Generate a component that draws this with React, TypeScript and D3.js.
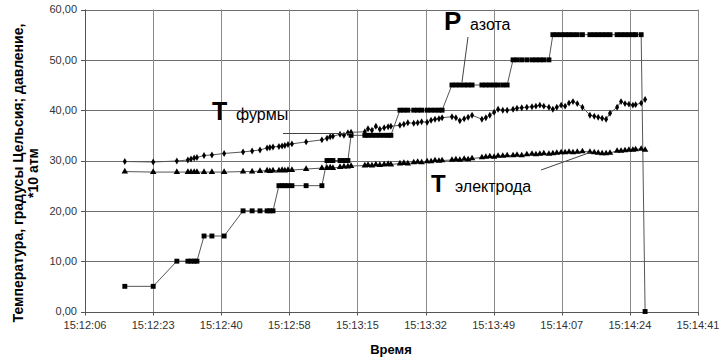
import React from "react";
import * as d3 from "d3";

// seconds after 15:12:06
const sampleTimes = [
  10.1, 17.3, 23.3, 26.1, 26.9, 27.7, 28.4, 30.2, 32.2, 35.3,
  40.1, 42.4, 44.4, 46.2, 46.9, 47.7, 49.2, 50.0, 50.7, 51.5,
  52.5, 56.1, 60.1, 61.4, 62.2, 62.9, 64.7, 65.7, 66.7, 67.5,
  71.0, 71.8, 72.8, 73.8, 74.8, 75.9, 76.9, 77.6, 79.9, 80.9,
  81.9, 83.4, 84.4, 85.4, 86.8, 87.8, 88.8, 89.8, 90.6, 93.1,
  94.1, 95.1, 96.2, 97.2, 98.2, 100.7, 101.7, 102.7, 103.8, 104.8,
  106.0, 107.1, 108.6, 109.6, 110.8, 112.1, 113.4, 114.4, 115.4, 116.4,
  117.7, 118.7, 119.7, 120.8, 121.8, 122.8, 123.8, 124.9, 126.2, 128.1,
  129.2, 130.2, 131.2, 132.2, 133.2, 135.0, 136.0, 137.0, 138.0, 139.0,
  139.7, 141.1, 142.1,
];

const pNitrogen = [
  5, 5, 10, 10, 10, 10, 10, 15, 15, 15,
  20, 20, 20, 20, 20, 20, 25, 25, 25, 25,
  25, 25, 25, 30, 30, 30, 30, 30, 30, 35,
  35, 35, 35, 35, 35, 35, 35, 35, 40, 40,
  40, 40, 40, 40, 40, 40, 40, 40, 40, 45,
  45, 45, 45, 45, 45, 45, 45, 45, 45, 45,
  45, 45, 50, 50, 50, 50, 50, 50, 50, 50,
  50, 55, 55, 55, 55, 55, 55, 55, 55, 55,
  55, 55, 55, 55, 55, 55, 55, 55, 55, 55,
  55, 55, 0,
];

const tTuyere = [
  29.8, 29.7, 29.9, 30.1, 30.3, 30.5, 30.6, 31.0, 31.1, 31.4,
  31.7, 31.9, 32.1, 32.5, 32.6, 32.7, 32.8, 32.9, 33.0, 33.2,
  33.3, 33.7, 34.1, 34.4, 34.7, 34.8, 35.2, 35.0, 35.5, 35.6,
  35.7, 36.3, 36.0, 36.8, 36.2, 36.5, 36.7, 36.8, 37.0, 37.2,
  37.5, 37.4, 37.5, 37.7, 37.6, 38.0, 38.2, 38.3, 38.5, 38.7,
  38.5, 37.9, 38.3, 38.6, 39.0, 38.2, 38.5, 39.0, 39.6, 40.2,
  40.0, 40.0, 40.2, 40.4, 40.5, 40.6, 40.7, 40.8, 41.0, 40.8,
  40.6, 40.2, 40.6, 41.0, 40.8, 41.4, 41.7, 41.3, 40.6, 39.0,
  38.8, 38.6, 38.4, 38.2, 39.4, 40.6, 41.7, 41.3, 41.2, 41.0,
  41.1, 41.4, 42.1,
];

const tElectrode = [
  27.8, 27.7, 27.7, 27.7, 27.7, 27.7, 27.7, 27.7, 27.7, 27.7,
  27.8, 27.8, 27.9, 28.0, 27.9, 28.0, 28.0, 28.1, 28.0, 28.1,
  28.1, 28.3, 28.5, 28.5, 28.6, 28.5, 28.7, 28.8, 28.8, 28.9,
  29.0, 29.1, 29.0, 29.2, 29.1, 29.2, 29.3, 29.2, 29.4, 29.5,
  29.4, 29.6, 29.7, 29.6, 29.8, 29.8, 30.0, 29.9, 30.0, 30.1,
  30.2, 30.1, 30.3, 30.2, 30.4, 30.6, 30.7, 30.8, 30.7, 30.9,
  30.9, 31.0, 31.0, 31.1, 31.0, 31.2, 31.3, 31.2, 31.3, 31.4,
  31.3, 31.4, 31.5, 31.6, 31.6, 31.7, 31.6, 31.7, 31.8, 31.7,
  31.6, 31.5, 31.4, 31.4, 31.5, 31.9, 31.9, 32.0, 32.1, 32.1,
  32.2, 32.3, 32.1,
];

const xTickLabels = [
  "15:12:06", "15:12:23", "15:12:40", "15:12:58", "15:13:15",
  "15:13:32", "15:13:49", "15:14:07", "15:14:24", "15:14:41",
];
const xTickStep = 17.28;
const yTicks = [0, 10, 20, 30, 40, 50, 60];

const W = 722;
const H = 361;
const FONT = "Arial, 'Liberation Sans', sans-serif";

export default function App() {
  const x = d3.scaleLinear().domain([0, xTickStep * 9]).range([85, 698]);
  const y = d3.scaleLinear().domain([0, 60]).range([311.5, 9.5]);
  const xTicks = xTickLabels.map((_, i) => i * xTickStep);

  const line = d3
    .line<[number, number]>()
    .x((d) => x(d[0]))
    .y((d) => y(d[1]));

  const pts = (vals: number[]) =>
    sampleTimes.map((t, i) => [t, vals[i]] as [number, number]);

  const sq = d3.symbol().type(d3.symbolSquare).size(24)()!;
  const tri = d3.symbol().type(d3.symbolTriangle).size(18)()!;
  const dia = d3.symbol().type(d3.symbolDiamond).size(14)()!;

  const x0 = x.range()[0];
  const x1 = x.range()[1];
  const y0 = y.range()[0];
  const y1 = y.range()[1];

  return (
    <svg
      width={W}
      height={H}
      style={{ position: "absolute", left: 0, top: 0, background: "#fff" }}
      fontFamily={FONT}
    >
      <rect x={0} y={0} width={W} height={H} fill="#fff" />
      {/* grid */}
      {yTicks.map((v) => (
        <line
          key={"gy" + v}
          x1={x0}
          x2={x1}
          y1={Math.round(y(v)) + 0.5}
          y2={Math.round(y(v)) + 0.5}
          stroke="#6e6e6e"
          strokeWidth={1}
        />
      ))}
      {xTicks.map((t) => (
        <line
          key={"gx" + t}
          x1={Math.round(x(t)) + 0.5}
          x2={Math.round(x(t)) + 0.5}
          y1={y1}
          y2={y0}
          stroke="#8a8a8a"
          strokeWidth={1}
        />
      ))}
      {/* axes */}
      <line x1={x0 + 0.5} x2={x0 + 0.5} y1={y1} y2={y0} stroke="#555" />
      <line x1={x0} x2={x1} y1={Math.round(y0) + 0.5} y2={Math.round(y0) + 0.5} stroke="#555" />
      {yTicks.map((v) => (
        <g key={"yt" + v}>
          <line
            x1={x0 - 4}
            x2={x0}
            y1={Math.round(y(v)) + 0.5}
            y2={Math.round(y(v)) + 0.5}
            stroke="#555"
          />
          <text
            x={77}
            y={y(v)}
            dy="0.35em"
            textAnchor="end"
            fontSize={11}
            fill="#333"
          >
            {v.toFixed(2).replace(".", ",")}
          </text>
        </g>
      ))}
      {xTicks.map((t, i) => (
        <g key={"xt" + t}>
          <line
            x1={Math.round(x(t)) + 0.5}
            x2={Math.round(x(t)) + 0.5}
            y1={y0}
            y2={y0 + 4}
            stroke="#555"
          />
          <text x={x(t)} y={329} textAnchor="middle" fontSize={11} fill="#333">
            {xTickLabels[i]}
          </text>
        </g>
      ))}

      {/* series lines */}
      <path d={line(pts(tElectrode))!} fill="none" stroke="#555" strokeWidth={1} />
      <path d={line(pts(tTuyere))!} fill="none" stroke="#555" strokeWidth={1} />
      <path d={line(pts(pNitrogen))!} fill="none" stroke="#555" strokeWidth={1} />

      {/* markers */}
      {pts(tElectrode).map((d, i) => (
        <path key={"te" + i} d={tri} transform={`translate(${x(d[0])},${y(d[1])})`} fill="#000" />
      ))}
      {pts(tTuyere).map((d, i) => (
        <path key={"tf" + i} d={dia} transform={`translate(${x(d[0])},${y(d[1])})`} fill="#000" />
      ))}
      {pts(pNitrogen).map((d, i) => (
        <path key={"pn" + i} d={sq} transform={`translate(${x(d[0])},${y(d[1])})`} fill="#000" />
      ))}

      {/* annotations */}
      <line x1={283} y1={133.5} x2={352} y2={133.5} stroke="#444" strokeWidth={1} />
      <text x={212} y={120} fontSize={25} fontWeight="bold" fill="#000">T</text>
      <text x={236} y={120} fontSize={16} fill="#000">фурмы</text>

      <line x1={468} y1={37} x2={462} y2={82} stroke="#444" strokeWidth={1} />
      <text x={444} y={30} fontSize={26} fontWeight="bold" fill="#000">P</text>
      <text x={470} y={30} fontSize={16} fill="#000">азота</text>

      <line x1={541} y1={170} x2={590} y2={152.5} stroke="#444" strokeWidth={1} />
      <text x={431} y={192} fontSize={24} fontWeight="bold" fill="#000">T</text>
      <text x={455} y={192} fontSize={16} fill="#000">электрода</text>

      {/* axis titles */}
      <g transform="translate(23,173) rotate(-90)">
        <text x={0} y={0} textAnchor="middle" fontSize={14} fontWeight="bold" fill="#000">
          Температура, градусы Цельсия; давление,
        </text>
        <text x={0} y={15} textAnchor="middle" fontSize={14} fontWeight="bold" fill="#000">
          *10 атм
        </text>
      </g>
      <text x={391} y={354} textAnchor="middle" fontSize={13} fontWeight="bold" fill="#000">
        Время
      </text>
    </svg>
  );
}
